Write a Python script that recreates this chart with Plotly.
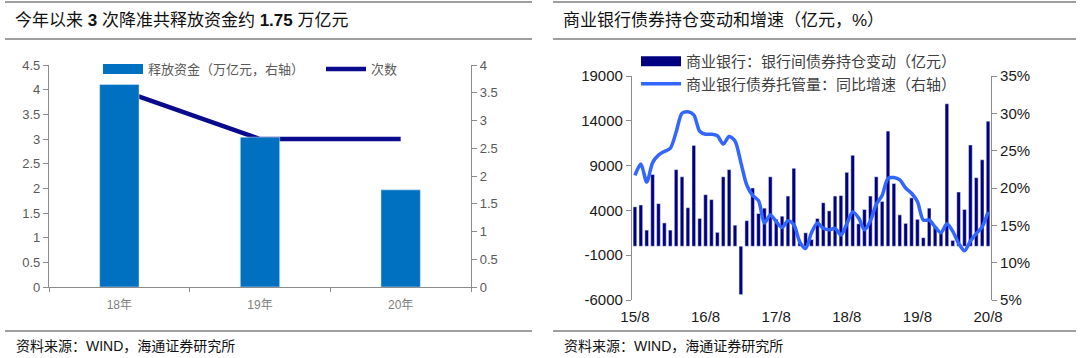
import plotly.graph_objects as go

W, H = 1080, 358

# ---------------- Left chart data ----------------
years = ["18年", "19年", "20年"]
released = [3.65, 2.7, 1.75]          # 释放资金（万亿元，右轴）
cuts = [4, 3, 3]                        # 次数

# ---------------- Right chart data ----------------
months = [f"{y % 100}/{m}" for y in range(2015, 2021) for m in range(1, 13)
          if (2015, 8) <= (y, m) <= (2020, 8)]
month_ticks = ["15/8", "16/8", "17/8", "18/8", "19/8", "20/8"]

bond_change = [4400, 4600, 1800, 8000, 4750, 2600, 1800, 8550, 7750, 4300,
               11250, 3100, 5750, 5200, 1550, 7750, 8550, 2350, -5400, 2850,
               6500, 3650, 4250, 7750, 3000, 3350, 5600, 8700, 400, 1500,
               750, 3100, 4850, 3950, 5600, 5650, 8250, 10150, 2500, 4100,
               5600, 7750, 5000, 12850, 7000, 3500, 2550, 5400, 3000, 950,
               4250, 2200, 1500, 15900, 650, 6050, 4100, 11300, 7650, 9650,
               13950]
bond_growth = [21.7, 23.2, 20.8, 23.4, 24.4, 24.9, 25.3, 27.5, 30.0, 30.2,
               29.8, 27.6, 27.2, 27.2, 27.0, 25.9, 26.9, 26.3, 23.4, 20.4,
               19.0, 18.3, 15.3, 16.4, 15.5, 14.7, 15.6, 15.1, 12.8, 11.9,
               14.0, 15.3, 14.6, 14.4, 14.6, 13.7, 15.2, 16.8, 16.0, 14.4,
               15.6, 17.8, 19.0, 21.3, 21.4, 21.1, 20.0, 19.3, 18.2, 15.7,
               15.7, 14.8, 14.0, 15.2, 14.2, 12.6, 11.6, 12.9, 13.9, 14.8,
               16.8]
left_ticks = [-6000, -1000, 4000, 9000, 14000, 19000]
left_tick_text = ["-6000", "-1000", "4000", "9000", "14000", "19000"]
right_ticks = [5, 10, 15, 20, 25, 30, 35]
right_tick_text = ["5%", "10%", "15%", "20%", "25%", "30%", "35%"]

FONT = "Liberation Sans, Arial, Noto Sans CJK SC"
AX = "#8c8c8c"
TXT = "#595959"
BAR_L = "#0070C0"
BAR_R = "#000080"


def px(x):
    return x / W


def py(y):
    return 1 - y / H


fig = go.Figure()

# ---- left chart traces ----
fig.add_trace(go.Bar(x=years, y=released, name="释放资金（万亿元，右轴）",
                     marker_color=BAR_L, width=0.28, xaxis="x", yaxis="y2",
                     showlegend=False))
# legend entry drawn as a wide swatch (legend-only, no data)
fig.add_trace(go.Scatter(x=[None], y=[None], name="释放资金（万亿元，右轴）", mode="lines",
                         line=dict(color=BAR_L, width=10), xaxis="x", yaxis="y2",
                         legend="legend"))
fig.add_trace(go.Scatter(x=years, y=cuts, name="次数", mode="lines",
                         line=dict(color="#0A0A8C", width=4.5), xaxis="x", yaxis="y",
                         legend="legend"))

# ---- right chart traces ----
fig.add_trace(go.Bar(x=months, y=bond_change, name="商业银行：银行间债券持仓变动（亿元）",
                     marker_color=BAR_R, width=0.62, xaxis="x2", yaxis="y3",
                     showlegend=False))
fig.add_trace(go.Scatter(x=[None], y=[None], name="商业银行：银行间债券持仓变动（亿元）",
                         mode="lines", line=dict(color=BAR_R, width=10),
                         xaxis="x2", yaxis="y3", legend="legend2"))
fig.add_trace(go.Scatter(x=months, y=bond_growth, name="商业银行债券托管量：同比增速（右轴）",
                         mode="lines", line=dict(color="#3366FF", width=3.5, shape="spline",
                                                 smoothing=0.8),
                         xaxis="x2", yaxis="y4", legend="legend2"))

# domains
L_x = [px(49), px(471)]
L_y = [py(287), py(65)]
R_x = [px(632), px(991)]
R_y = [py(300), py(76)]
y_min, y_max = -6000, 19000
zero_pos = R_y[0] + (0 - y_min) / (y_max - y_min) * (R_y[1] - R_y[0])

axis_common = dict(showline=True, linecolor=AX, linewidth=1.2, ticks="outside",
                   tickcolor=AX, ticklen=5, showgrid=False, zeroline=False,
                   automargin=False)

fig.update_layout(
    width=W, height=H, margin=dict(l=0, r=0, t=0, b=0, autoexpand=False),
    paper_bgcolor="white", plot_bgcolor="white",
    font=dict(family=FONT, color=TXT),
    barmode="overlay",
    xaxis=dict(domain=L_x, anchor="y", type="category", tickson="boundaries",
               ticklen=4, showline=True, linecolor=AX, linewidth=1.2, ticks="outside",
               tickcolor=AX, showgrid=False, automargin=False, ticklabelstandoff=6,
               tickfont=dict(size=12, color="#7f7f7f")),
    yaxis=dict(domain=L_y, anchor="x", range=[0, 4.5], dtick=0.5, tick0=0,
               tickfont=dict(size=13, color=TXT), **axis_common),
    yaxis2=dict(overlaying="y", side="right", anchor="x", range=[0, 4], dtick=0.5,
                tick0=0, tickfont=dict(size=13, color=TXT), **axis_common),
    xaxis2=dict(domain=R_x, anchor="y3", type="category", range=[-0.5, 60.5],
                tickvals=month_ticks, ticktext=month_ticks, ticks="", showline=False,
                showgrid=False, ticklabelstandoff=6, automargin=False,
                tickfont=dict(size=15, color="#1a1a1a")),
    xaxis3=dict(overlaying="x2", anchor="free", position=zero_pos, type="linear",
                range=[-0.5, 60.5], tickvals=[11.5, 23.5, 35.5, 47.5, 59.5],
                showticklabels=False, showline=True, linecolor=AX, linewidth=1.2,
                ticks="outside", tickcolor=AX, ticklen=5, showgrid=False, zeroline=False,
                automargin=False),
    yaxis3=dict(domain=R_y, anchor="x2", range=[y_min, y_max], tickvals=left_ticks,
                ticktext=left_tick_text,
                tickfont=dict(size=15, color="#1a1a1a"), **axis_common),
    yaxis4=dict(overlaying="y3", side="right", anchor="x2", range=[5, 35],
                tickvals=right_ticks, ticktext=right_tick_text,
                tickfont=dict(size=15, color="#1a1a1a"), **axis_common),
    legend=dict(orientation="h", x=px(98), y=py(69), xanchor="left", yanchor="middle",
                entrywidth=168, itemwidth=40, bgcolor="rgba(0,0,0,0)",
                font=dict(size=13, color=TXT, family=FONT)),
    legend2=dict(orientation="v", x=px(636), y=py(45), xanchor="left", yanchor="top",
                 itemwidth=40, tracegroupgap=0, bgcolor="rgba(0,0,0,0)",
                 font=dict(size=15, color="#404040", family=FONT)),
    showlegend=True,
)

# title / source texts
ann = [
    dict(text="今年以来 <b>3</b> 次降准共释放资金约 <b>1.75</b> 万亿元", x=px(13), y=py(21)),
    dict(text="商业银行债券持仓变动和增速（亿元，%）", x=px(561), y=py(21)),
    dict(text="资料来源：WIND，海通证券研究所", x=px(14), y=py(346), size=14),
    dict(text="资料来源：WIND，海通证券研究所", x=px(562), y=py(346), size=14),
]
for a in ann:
    fig.add_annotation(text=a["text"], x=a["x"], y=a["y"], xref="paper", yref="paper",
                       xanchor="left", yanchor="middle", showarrow=False,
                       font=dict(size=a.get("size", 17), color="#111111", family=FONT))

# separator lines
for x0, x1 in [(5, 532), (553, 1076)]:
    for yy in [2, 39, 331]:
        fig.add_shape(type="line", xref="paper", yref="paper", x0=px(x0), x1=px(x1),
                      y0=py(yy), y1=py(yy), line=dict(color="#7f7f7f", width=1.5))

# remove the browser's default page margin so the figure sits at the window's corner
fig.write_html("out.html", config={"displayModeBar": False},
               post_script="document.body.style.margin='0';")
